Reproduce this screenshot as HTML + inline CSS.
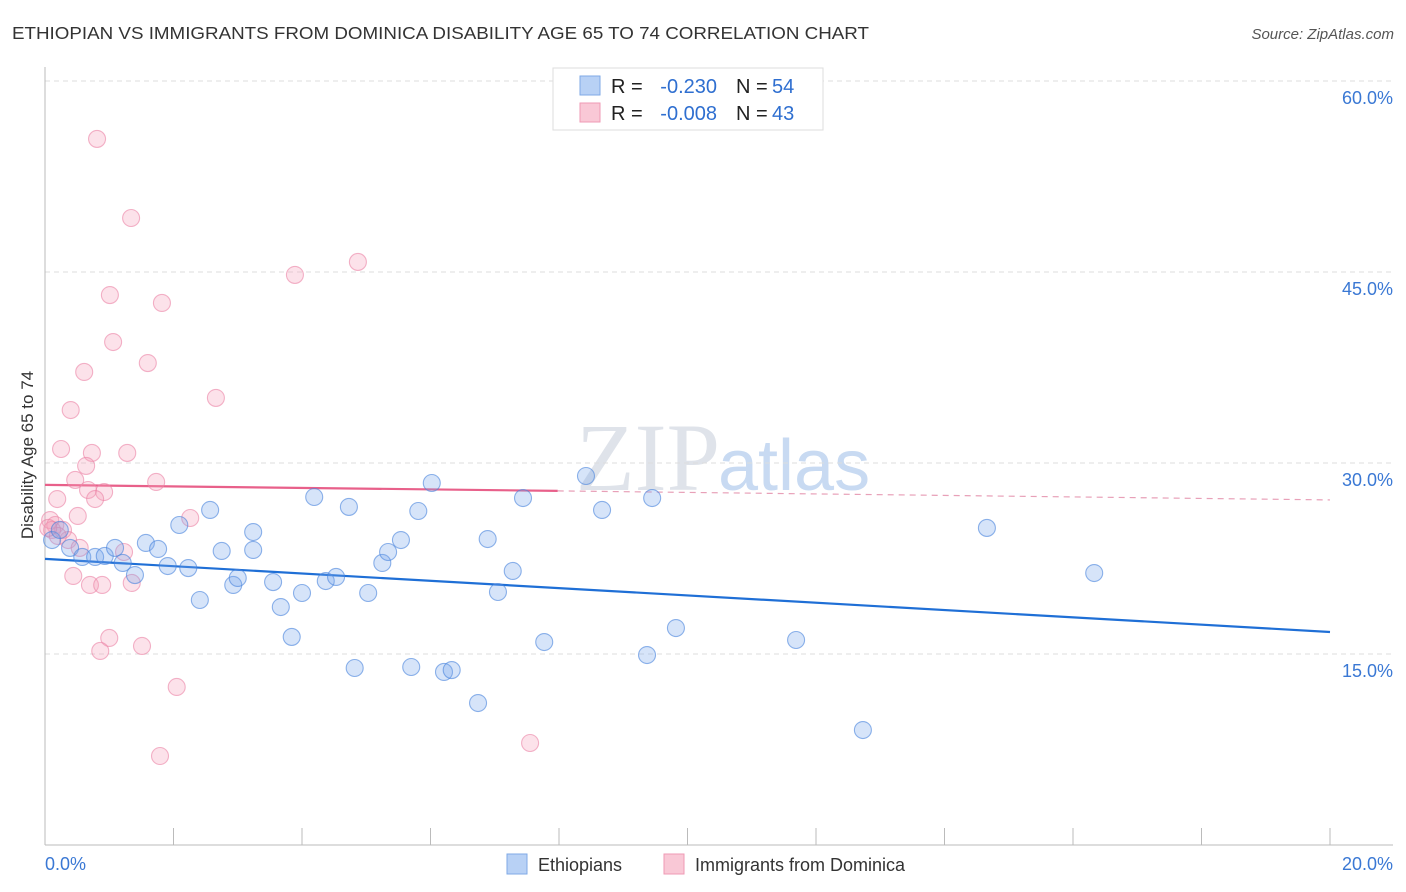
<!DOCTYPE html>
<html><head><meta charset="utf-8"><style>
body{margin:0;background:#fff;font-family:"Liberation Sans",sans-serif;}
svg{display:block}
</style></head><body>
<svg id="chart" width="1406" height="892" viewBox="0 0 1406 892">
<text x="12" y="39" font-size="17.5" fill="#333" textLength="857" lengthAdjust="spacingAndGlyphs">ETHIOPIAN VS IMMIGRANTS FROM DOMINICA DISABILITY AGE 65 TO 74 CORRELATION CHART</text>
<text x="1394" y="39" font-size="15" fill="#555" font-style="italic" text-anchor="end">Source: ZipAtlas.com</text>
<text x="720" y="490" font-size="96" fill="#dfe3ea" text-anchor="end" font-family="Liberation Serif,serif">ZIP</text>
<text x="718" y="490" font-size="72" fill="#c8daf2">atlas</text>
<g id="grid"></g>
<g id="axes"></g>
<g id="trend"></g>
<g id="points"></g>
<text transform="translate(33,455) rotate(-90)" font-size="17" fill="#333" text-anchor="middle">Disability Age 65 to 74</text>
<g>
<rect x="553" y="68" width="270" height="62" fill="#fff" stroke="#ddd"/>
<rect x="580" y="76" width="20" height="19" fill="#b8d1f5" stroke="#7fa9e6"/>
<rect x="580" y="103" width="20" height="19" fill="#f9c8d6" stroke="#ef9ab4"/>
<text x="611" y="93" font-size="20" fill="#222">R =</text>
<text x="717" y="93" font-size="20" fill="#2f6fd0" text-anchor="end">-0.230</text>
<text x="736" y="93" font-size="20" fill="#222">N =</text>
<text x="772" y="93" font-size="20" fill="#2f6fd0">54</text>
<text x="611" y="120" font-size="20" fill="#222">R =</text>
<text x="717" y="120" font-size="20" fill="#2f6fd0" text-anchor="end">-0.008</text>
<text x="736" y="120" font-size="20" fill="#222">N =</text>
<text x="772" y="120" font-size="20" fill="#2f6fd0">43</text>
</g>
<g>
<rect x="507" y="854" width="20" height="20" fill="#b8d1f5" stroke="#7fa9e6"/>
<text x="538" y="871" font-size="18" fill="#333">Ethiopians</text>
<rect x="664" y="854" width="20" height="20" fill="#f9c8d6" stroke="#ef9ab4"/>
<text x="695" y="871" font-size="18" fill="#333">Immigrants from Dominica</text>
</g>
</svg>
<script>
const yTicks=[15,30,45,60];
const xTickLabels=["0.0%","20.0%"];
const blueX=[0.11,0.23,0.39,0.58,0.78,0.93,1.09,1.21,1.40,1.57,1.76,1.91,2.09,2.23,2.41,2.57,2.75,2.93,3.00,3.24,3.24,3.55,3.67,3.84,4.00,4.19,4.37,4.53,4.73,4.82,5.03,5.25,5.34,5.54,5.70,5.81,6.02,6.21,6.33,6.74,6.89,7.05,7.28,7.44,7.77,8.42,8.67,9.37,9.45,9.82,11.69,12.73,14.66,16.33];
const blueY=[23.95,24.74,23.33,22.62,22.62,22.70,23.33,22.15,21.20,23.72,23.25,21.91,25.13,21.75,19.24,26.31,23.09,20.42,20.97,24.58,23.17,20.65,18.69,16.34,19.79,27.33,20.73,21.05,26.55,13.90,19.79,22.15,23.01,23.95,13.98,26.23,28.43,13.59,13.74,11.15,24.03,19.87,21.52,27.25,15.94,28.98,26.31,14.92,27.25,17.04,16.10,9.03,24.90,21.36];
const pinkX=[0.81,1.34,3.89,4.87,1.01,1.82,1.06,1.60,0.61,2.66,0.40,0.25,0.73,1.28,0.64,0.47,1.73,0.67,0.92,0.19,0.78,0.51,2.26,0.08,0.16,0.28,0.36,0.54,1.23,0.44,0.70,0.89,1.35,1.00,0.86,1.51,2.05,1.79,7.55,0.11,0.20,0.05];
const pinkY=[55.45,49.24,44.77,45.79,43.19,42.57,39.50,37.85,37.15,35.11,34.16,31.10,30.79,30.79,29.77,28.67,28.51,27.88,27.72,27.17,27.17,25.84,25.68,25.52,25.13,24.74,23.95,23.33,23.01,21.13,20.42,20.42,20.58,16.26,15.24,15.63,12.41,6.99,8.01,24.74,24.27,24.90];
const blueTrend=[22.47,16.73];
const pinkTrend=[28.28,27.10];
const pinkSolidEnd=7.98;
const NS="http://www.w3.org/2000/svg";
const X0=45,X1=1330,Y0=845,Y60=81;
const sx=v=>X0+(X1-X0)*v/20;
const sy=v=>Y0-(Y0-Y60)*v/60;
function mk(tag,attrs,parent){const e=document.createElementNS(NS,tag);for(const k in attrs)e.setAttribute(k,attrs[k]);parent.appendChild(e);return e;}
const grid=document.getElementById('grid'),axes=document.getElementById('axes'),trend=document.getElementById('trend'),pts=document.getElementById('points');
yTicks.forEach(t=>{
 const l=mk('line',{x1:X0,x2:1393,y1:sy(t),y2:sy(t),stroke:'#ddd','stroke-dasharray':'5,4'},grid);
 
 
 const tx=mk('text',{x:1393,y:sy(t)+23,'font-size':18,fill:'#3a78d4','text-anchor':'end'},grid);
 tx.textContent=t.toFixed(1)+'%';
 
 
});
let a=mk('line',{x1:X0,x2:X0,y1:67,y2:Y0,stroke:'#bbb'},axes);


a=mk('line',{x1:X0,x2:1393,y1:Y0,y2:Y0,stroke:'#bbb'},axes);


for(let i=0;i<=10;i++){const t=mk('line',{x1:sx(i*2),x2:sx(i*2),y1:Y0,y2:Y0-17,stroke:'#bbb'},axes);
 
 }
let xl=mk('text',{x:45,y:870,'font-size':18,fill:'#3a78d4'},axes);xl.textContent=xTickLabels[0];


xl=mk('text',{x:1393,y:870,'font-size':18,fill:'#3a78d4','text-anchor':'end'},axes);xl.textContent=xTickLabels[1];


function dot(x,y,fill,stroke,name){const c=mk('circle',{cx:sx(x),cy:sy(y),r:8.5,fill:fill,stroke:stroke,'stroke-width':1.1},pts);
 
 }
pinkX.forEach((x,i)=>dot(x,pinkY[i],'rgba(244,160,186,0.3)','rgba(235,130,165,0.6)','dominica-point'));
blueX.forEach((x,i)=>dot(x,blueY[i],'rgba(120,165,235,0.3)','rgba(70,130,220,0.6)','ethiopian-point'));
let tl=mk('line',{x1:sx(0),y1:sy(blueTrend[0]),x2:sx(20),y2:sy(blueTrend[1]),stroke:'#1f6fd6','stroke-width':2.2},trend);


const py=x=>pinkTrend[0]+(pinkTrend[1]-pinkTrend[0])*x/20;
tl=mk('line',{x1:sx(0),y1:sy(py(0)),x2:sx(pinkSolidEnd),y2:sy(py(pinkSolidEnd)),stroke:'#e8608a','stroke-width':2.2},trend);


tl=mk('line',{x1:sx(pinkSolidEnd),y1:sy(py(pinkSolidEnd)),x2:sx(20),y2:sy(py(20)),stroke:'#e8a0b8','stroke-width':1.2,'stroke-dasharray':'6,5'},trend);


</script>
</body></html>
